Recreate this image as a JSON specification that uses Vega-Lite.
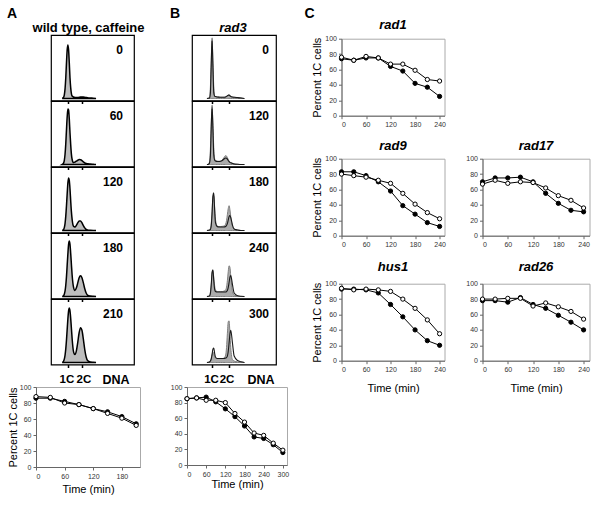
{
"$schema": "https://vega.github.io/schema/vega-lite/v6.json",
"background": "white",
"padding": {"left": 6, "top": 7, "right": 5, "bottom": 5},
"config": {
 "view": {"stroke": null},
 "font": "Liberation Sans",
 "axis": {"labelFont": "Liberation Sans", "titleFont": "Liberation Sans", "labelFontSize": 7, "labelColor": "#333333", "tickSize": 3, "tickColor": "#666666", "domainColor": "#666666", "grid": false, "titleFontWeight": "normal", "titleColor": "black", "titleFontSize": 11, "labelPadding": 2},
 "title": {"font": "Liberation Sans", "color": "black"}
},
"datasets": {
 "A0": [{"x":0.6,"y":0},{"x":0.7,"y":1.3},{"x":0.75,"y":4},{"x":0.8,"y":10},{"x":0.85,"y":21},{"x":0.9,"y":36},{"x":0.95,"y":49},{"x":1,"y":54},{"x":1.05,"y":49},{"x":1.1,"y":36},{"x":1.15,"y":21},{"x":1.2,"y":11},{"x":1.25,"y":5},{"x":1.3,"y":2.5},{"x":1.4,"y":1.5},{"x":1.5,"y":1},{"x":1.6,"y":1},{"x":1.7,"y":1},{"x":1.8,"y":1.3},{"x":1.9,"y":1.5},{"x":2,"y":1.5},{"x":2.1,"y":1.5},{"x":2.2,"y":1.2},{"x":2.3,"y":1},{"x":2.4,"y":0.8},{"x":2.6,"y":0.5},{"x":2.8,"y":0.3},{"x":3,"y":0}],
 "A60": [{"x":0.6,"y":0},{"x":0.7,"y":1.6},{"x":0.75,"y":4.5},{"x":0.8,"y":10.6},{"x":0.85,"y":21},{"x":0.9,"y":35},{"x":0.95,"y":48},{"x":1,"y":56},{"x":1.05,"y":55},{"x":1.1,"y":46},{"x":1.15,"y":32},{"x":1.2,"y":20},{"x":1.25,"y":10.5},{"x":1.3,"y":5.3},{"x":1.4,"y":2},{"x":1.5,"y":2.4},{"x":1.6,"y":3.3},{"x":1.7,"y":4.3},{"x":1.8,"y":5},{"x":1.9,"y":4.8},{"x":2,"y":4},{"x":2.1,"y":2.6},{"x":2.2,"y":1.6},{"x":2.3,"y":1},{"x":2.4,"y":0.7},{"x":2.6,"y":0.4},{"x":2.8,"y":0.2},{"x":3,"y":0}],
 "A120": [{"x":0.6,"y":0},{"x":0.7,"y":1.2},{"x":0.75,"y":3.1},{"x":0.8,"y":7.2},{"x":0.85,"y":14.5},{"x":0.9,"y":25},{"x":0.95,"y":37},{"x":1,"y":48},{"x":1.05,"y":53},{"x":1.1,"y":50.5},{"x":1.15,"y":42},{"x":1.2,"y":30},{"x":1.25,"y":19},{"x":1.3,"y":11.5},{"x":1.4,"y":4.3},{"x":1.5,"y":3.6},{"x":1.6,"y":5.2},{"x":1.7,"y":7.7},{"x":1.8,"y":9.5},{"x":1.9,"y":9.5},{"x":2,"y":7.8},{"x":2.1,"y":5},{"x":2.2,"y":2.7},{"x":2.3,"y":1.2},{"x":2.4,"y":0.6},{"x":2.6,"y":0.3},{"x":2.8,"y":0.1},{"x":3,"y":0}],
 "A180": [{"x":0.6,"y":0},{"x":0.7,"y":0.9},{"x":0.75,"y":2.5},{"x":0.8,"y":5.6},{"x":0.85,"y":11.3},{"x":0.9,"y":20},{"x":0.95,"y":31.6},{"x":1,"y":43},{"x":1.05,"y":52.5},{"x":1.1,"y":56},{"x":1.15,"y":52.5},{"x":1.2,"y":43.5},{"x":1.25,"y":32.5},{"x":1.3,"y":22},{"x":1.4,"y":9.5},{"x":1.5,"y":6},{"x":1.6,"y":8.5},{"x":1.7,"y":13.5},{"x":1.8,"y":19},{"x":1.9,"y":21},{"x":2,"y":19},{"x":2.1,"y":13.8},{"x":2.2,"y":7.8},{"x":2.3,"y":3.5},{"x":2.4,"y":1.4},{"x":2.6,"y":0.5},{"x":2.8,"y":0.2},{"x":3,"y":0}],
 "A210": [{"x":0.6,"y":0},{"x":0.7,"y":1.5},{"x":0.75,"y":3.6},{"x":0.8,"y":7.4},{"x":0.85,"y":13.7},{"x":0.9,"y":22.6},{"x":0.95,"y":33.4},{"x":1,"y":44},{"x":1.05,"y":52},{"x":1.1,"y":55},{"x":1.15,"y":52},{"x":1.2,"y":44.5},{"x":1.25,"y":34.5},{"x":1.3,"y":24.5},{"x":1.4,"y":11},{"x":1.5,"y":8},{"x":1.6,"y":11.5},{"x":1.7,"y":20},{"x":1.8,"y":30},{"x":1.9,"y":35},{"x":2,"y":32.5},{"x":2.1,"y":23.5},{"x":2.2,"y":13},{"x":2.3,"y":5.5},{"x":2.4,"y":2},{"x":2.6,"y":0.5},{"x":2.8,"y":0.2},{"x":3,"y":0}],
 "B0g": [{"x":0.7,"y":0},{"x":0.8,"y":0.3},{"x":0.85,"y":1.5},{"x":0.9,"y":11},{"x":0.95,"y":38},{"x":1,"y":58},{"x":1.05,"y":38},{"x":1.1,"y":12},{"x":1.15,"y":3},{"x":1.2,"y":2},{"x":1.3,"y":1.6},{"x":1.4,"y":1.5},{"x":1.5,"y":1.3},{"x":1.6,"y":1.3},{"x":1.7,"y":1.3},{"x":1.8,"y":1.5},{"x":1.85,"y":2},{"x":1.9,"y":2.7},{"x":1.95,"y":3.5},{"x":2,"y":3.7},{"x":2.05,"y":3.2},{"x":2.1,"y":2.3},{"x":2.2,"y":1.6},{"x":2.3,"y":1.3},{"x":2.5,"y":1},{"x":2.7,"y":0.6},{"x":2.9,"y":0}],
 "B0k": [{"x":0.7,"y":0},{"x":0.8,"y":0.2},{"x":0.85,"y":0.5},{"x":0.9,"y":5},{"x":0.95,"y":33},{"x":1,"y":61},{"x":1.05,"y":33},{"x":1.1,"y":6},{"x":1.15,"y":2.5},{"x":1.2,"y":2},{"x":1.3,"y":1.5},{"x":1.4,"y":1.4},{"x":1.5,"y":1.2},{"x":1.6,"y":1.3},{"x":1.7,"y":1.2},{"x":1.8,"y":1.6},{"x":1.85,"y":2.2},{"x":1.9,"y":2.8},{"x":1.95,"y":3.2},{"x":2,"y":3.4},{"x":2.05,"y":2.8},{"x":2.1,"y":2},{"x":2.2,"y":1.5},{"x":2.3,"y":1.2},{"x":2.5,"y":0.9},{"x":2.7,"y":0.5},{"x":2.9,"y":0}],
 "B120g": [{"x":0.7,"y":0},{"x":0.8,"y":0.5},{"x":0.85,"y":3},{"x":0.9,"y":15},{"x":0.95,"y":41},{"x":1,"y":56},{"x":1.05,"y":42},{"x":1.1,"y":17},{"x":1.15,"y":6},{"x":1.2,"y":4},{"x":1.3,"y":3.5},{"x":1.4,"y":3.3},{"x":1.5,"y":3.5},{"x":1.6,"y":4.5},{"x":1.7,"y":7},{"x":1.8,"y":9},{"x":1.85,"y":8.5},{"x":1.9,"y":7},{"x":1.95,"y":5},{"x":2,"y":3.5},{"x":2.05,"y":2.5},{"x":2.1,"y":2},{"x":2.2,"y":1.3},{"x":2.3,"y":0.8},{"x":2.5,"y":0.3},{"x":2.7,"y":0},{"x":2.9,"y":0}],
 "B120k": [{"x":0.7,"y":0},{"x":0.8,"y":0.3},{"x":0.85,"y":1.5},{"x":0.9,"y":8},{"x":0.95,"y":36},{"x":1,"y":60},{"x":1.05,"y":36},{"x":1.1,"y":10},{"x":1.15,"y":4.5},{"x":1.2,"y":3.5},{"x":1.3,"y":3},{"x":1.4,"y":3},{"x":1.5,"y":3.2},{"x":1.6,"y":4},{"x":1.7,"y":5.5},{"x":1.8,"y":6.5},{"x":1.85,"y":6.3},{"x":1.9,"y":5.5},{"x":1.95,"y":4},{"x":2,"y":3},{"x":2.05,"y":2.2},{"x":2.1,"y":1.7},{"x":2.2,"y":1.1},{"x":2.3,"y":0.6},{"x":2.5,"y":0.2},{"x":2.7,"y":0},{"x":2.9,"y":0}],
 "B180g": [{"x":0.7,"y":0},{"x":0.8,"y":0.3},{"x":0.85,"y":0.8},{"x":0.9,"y":2},{"x":0.95,"y":7},{"x":1,"y":19},{"x":1.05,"y":33},{"x":1.1,"y":35},{"x":1.15,"y":24},{"x":1.2,"y":11.5},{"x":1.3,"y":4.5},{"x":1.4,"y":4},{"x":1.5,"y":4},{"x":1.6,"y":4.2},{"x":1.7,"y":4.5},{"x":1.8,"y":6.5},{"x":1.85,"y":10},{"x":1.9,"y":16},{"x":1.95,"y":22},{"x":2,"y":25},{"x":2.05,"y":21},{"x":2.1,"y":14},{"x":2.2,"y":4},{"x":2.3,"y":1.5},{"x":2.5,"y":0.5},{"x":2.7,"y":0},{"x":2.9,"y":0}],
 "B180k": [{"x":0.7,"y":0},{"x":0.8,"y":0.2},{"x":0.85,"y":0.5},{"x":0.9,"y":1},{"x":0.95,"y":4.5},{"x":1,"y":17},{"x":1.05,"y":35},{"x":1.1,"y":38},{"x":1.15,"y":21},{"x":1.2,"y":8},{"x":1.3,"y":4},{"x":1.4,"y":3.5},{"x":1.5,"y":3.5},{"x":1.6,"y":3.5},{"x":1.7,"y":3.5},{"x":1.8,"y":4},{"x":1.85,"y":5},{"x":1.9,"y":7},{"x":1.95,"y":10.5},{"x":2,"y":14},{"x":2.05,"y":15},{"x":2.1,"y":13},{"x":2.2,"y":5.5},{"x":2.3,"y":1.5},{"x":2.5,"y":0.5},{"x":2.7,"y":0},{"x":2.9,"y":0}],
 "B240g": [{"x":0.7,"y":0},{"x":0.8,"y":0.3},{"x":0.85,"y":0.8},{"x":0.9,"y":4},{"x":0.95,"y":11.5},{"x":1,"y":22},{"x":1.05,"y":26},{"x":1.1,"y":19},{"x":1.15,"y":11},{"x":1.2,"y":6.5},{"x":1.3,"y":5},{"x":1.4,"y":5},{"x":1.5,"y":5},{"x":1.6,"y":5},{"x":1.7,"y":5.5},{"x":1.8,"y":6.5},{"x":1.85,"y":9.5},{"x":1.9,"y":16},{"x":1.95,"y":25},{"x":2,"y":31},{"x":2.05,"y":29.5},{"x":2.1,"y":20.5},{"x":2.2,"y":5},{"x":2.3,"y":1.5},{"x":2.5,"y":0.5},{"x":2.7,"y":0},{"x":2.9,"y":0}],
 "B240k": [{"x":0.7,"y":0},{"x":0.8,"y":0.2},{"x":0.85,"y":0.6},{"x":0.9,"y":3},{"x":0.95,"y":11.5},{"x":1,"y":24.5},{"x":1.05,"y":27},{"x":1.1,"y":16},{"x":1.15,"y":7.5},{"x":1.2,"y":5},{"x":1.3,"y":4.5},{"x":1.4,"y":4.5},{"x":1.5,"y":4.5},{"x":1.6,"y":4.5},{"x":1.7,"y":4.5},{"x":1.8,"y":4.5},{"x":1.85,"y":5},{"x":1.9,"y":6},{"x":1.95,"y":9},{"x":2,"y":14},{"x":2.05,"y":19.5},{"x":2.1,"y":21},{"x":2.2,"y":12},{"x":2.3,"y":3.5},{"x":2.5,"y":0.8},{"x":2.7,"y":0.2},{"x":2.9,"y":0}],
 "B300g": [{"x":0.7,"y":0},{"x":0.8,"y":0.3},{"x":0.85,"y":0.6},{"x":0.9,"y":1.5},{"x":0.95,"y":4},{"x":1,"y":8},{"x":1.05,"y":10.5},{"x":1.1,"y":9},{"x":1.15,"y":6},{"x":1.2,"y":4.5},{"x":1.3,"y":4},{"x":1.4,"y":4},{"x":1.5,"y":4},{"x":1.6,"y":4},{"x":1.7,"y":4.5},{"x":1.8,"y":7.5},{"x":1.85,"y":15},{"x":1.9,"y":29},{"x":1.95,"y":41},{"x":2,"y":42},{"x":2.05,"y":30},{"x":2.1,"y":15},{"x":2.2,"y":3},{"x":2.3,"y":1.5},{"x":2.5,"y":0.6},{"x":2.7,"y":0.2},{"x":2.9,"y":0}],
 "B300k": [{"x":0.7,"y":0},{"x":0.8,"y":0.2},{"x":0.85,"y":0.5},{"x":0.9,"y":1.5},{"x":0.95,"y":3.5},{"x":1,"y":8},{"x":1.05,"y":13.5},{"x":1.1,"y":14.5},{"x":1.15,"y":9.5},{"x":1.2,"y":5.5},{"x":1.3,"y":4},{"x":1.4,"y":4},{"x":1.5,"y":4},{"x":1.6,"y":4},{"x":1.7,"y":4},{"x":1.8,"y":4.5},{"x":1.85,"y":5},{"x":1.9,"y":6.5},{"x":1.95,"y":11},{"x":2,"y":19.5},{"x":2.05,"y":28.5},{"x":2.1,"y":32.5},{"x":2.2,"y":19.5},{"x":2.3,"y":6.5},{"x":2.5,"y":2},{"x":2.7,"y":0.8},{"x":2.9,"y":0}],
 "wt": [{"s":"f","t":0,"v":86},{"s":"f","t":30,"v":86},{"s":"f","t":60,"v":82},{"s":"f","t":90,"v":78},{"s":"f","t":120,"v":73},{"s":"f","t":150,"v":69},{"s":"f","t":180,"v":63},{"s":"f","t":210,"v":54},{"s":"o","t":0,"v":88},{"s":"o","t":30,"v":87},{"s":"o","t":60,"v":80},{"s":"o","t":90,"v":78},{"s":"o","t":120,"v":73},{"s":"o","t":150,"v":67},{"s":"o","t":180,"v":61},{"s":"o","t":210,"v":52}],
 "rad3": [{"s":"f","t":0,"v":85},{"s":"f","t":30,"v":86},{"s":"f","t":60,"v":87},{"s":"f","t":90,"v":81},{"s":"f","t":120,"v":72},{"s":"f","t":150,"v":62},{"s":"f","t":180,"v":50},{"s":"f","t":210,"v":36},{"s":"f","t":240,"v":34},{"s":"f","t":270,"v":26},{"s":"f","t":300,"v":16},{"s":"o","t":0,"v":85},{"s":"o","t":30,"v":86},{"s":"o","t":60,"v":83},{"s":"o","t":90,"v":83},{"s":"o","t":120,"v":80},{"s":"o","t":150,"v":66},{"s":"o","t":180,"v":55},{"s":"o","t":210,"v":41},{"s":"o","t":240,"v":38},{"s":"o","t":270,"v":28},{"s":"o","t":300,"v":19}],
 "rad1": [{"s":"f","t":0,"v":74},{"s":"f","t":30,"v":72},{"s":"f","t":60,"v":75},{"s":"f","t":90,"v":75},{"s":"f","t":120,"v":64},{"s":"f","t":150,"v":58},{"s":"f","t":180,"v":42},{"s":"f","t":210,"v":37},{"s":"f","t":240,"v":25},{"s":"o","t":0,"v":76},{"s":"o","t":30,"v":72},{"s":"o","t":60,"v":77},{"s":"o","t":90,"v":75},{"s":"o","t":120,"v":67},{"s":"o","t":150,"v":67},{"s":"o","t":180,"v":59},{"s":"o","t":210,"v":47},{"s":"o","t":240,"v":45}],
 "rad9": [{"s":"f","t":0,"v":83},{"s":"f","t":30,"v":83},{"s":"f","t":60,"v":78},{"s":"f","t":90,"v":70},{"s":"f","t":120,"v":58},{"s":"f","t":150,"v":39},{"s":"f","t":180,"v":28},{"s":"f","t":210,"v":17},{"s":"f","t":240,"v":12},{"s":"o","t":0,"v":80},{"s":"o","t":30,"v":78},{"s":"o","t":60,"v":76},{"s":"o","t":90,"v":72},{"s":"o","t":120,"v":68},{"s":"o","t":150,"v":55},{"s":"o","t":180,"v":41},{"s":"o","t":210,"v":30},{"s":"o","t":240,"v":22}],
 "rad17": [{"s":"f","t":0,"v":70},{"s":"f","t":30,"v":75},{"s":"f","t":60,"v":75},{"s":"f","t":90,"v":76},{"s":"f","t":120,"v":70},{"s":"f","t":150,"v":55},{"s":"f","t":180,"v":42},{"s":"f","t":210,"v":33},{"s":"f","t":240,"v":31},{"s":"o","t":0,"v":67},{"s":"o","t":30,"v":72},{"s":"o","t":60,"v":68},{"s":"o","t":90,"v":70},{"s":"o","t":120,"v":69},{"s":"o","t":150,"v":62},{"s":"o","t":180,"v":52},{"s":"o","t":210,"v":46},{"s":"o","t":240,"v":36}],
 "hus1": [{"s":"f","t":0,"v":93},{"s":"f","t":30,"v":93},{"s":"f","t":60,"v":92},{"s":"f","t":90,"v":88},{"s":"f","t":120,"v":73},{"s":"f","t":150,"v":57},{"s":"f","t":180,"v":40},{"s":"f","t":210,"v":26},{"s":"f","t":240,"v":20},{"s":"o","t":0,"v":94},{"s":"o","t":30,"v":92},{"s":"o","t":60,"v":93},{"s":"o","t":90,"v":92},{"s":"o","t":120,"v":90},{"s":"o","t":150,"v":80},{"s":"o","t":180,"v":68},{"s":"o","t":210,"v":53},{"s":"o","t":240,"v":35}],
 "rad26": [{"s":"f","t":0,"v":78},{"s":"f","t":30,"v":78},{"s":"f","t":60,"v":76},{"s":"f","t":90,"v":82},{"s":"f","t":120,"v":73},{"s":"f","t":150,"v":68},{"s":"f","t":180,"v":59},{"s":"f","t":210,"v":50},{"s":"f","t":240,"v":40},{"s":"o","t":0,"v":80},{"s":"o","t":30,"v":80},{"s":"o","t":60,"v":81},{"s":"o","t":90,"v":81},{"s":"o","t":120,"v":71},{"s":"o","t":150,"v":75},{"s":"o","t":180,"v":70},{"s":"o","t":210,"v":64},{"s":"o","t":240,"v":54}]
},
"spacing": 14.5,
"hconcat": [
 {"spacing": 24, "hconcat": [
  {"spacing": -12.3, "vconcat": [
   {"width": 1, "height": 1, "data": {"values": []}, "mark": "point", "title": {"text": "A", "anchor": "start", "frame": "group", "offset": 0, "dy": 4, "dx": -29, "baseline": "alphabetic", "fontSize": 14, "fontWeight": "bold"}},
   {"spacing": -2.3, "vconcat": [
    {"width": 105, "height": 1, "data": {"values": []}, "mark": "point", "title": {"text": "wild type, caffeine", "anchor": "middle", "frame": "group", "offset": 0, "dy": 16, "baseline": "alphabetic", "fontSize": 13, "fontWeight": "bold"}},
    {"spacing": -9.8, "vconcat": [
     {"spacing": 0, "hconcat": [
      {"width": 14, "height": 1, "data": {"values": []}, "mark": "point"},
      {"spacing": 0, "bounds": "flush", "vconcat": [
       {"width": 83, "height": 65.5, "data": {"name": "A0"}, "view": {"stroke": "black", "strokeWidth": 1.2},
        "title": {"text": "0", "anchor": "end", "frame": "group", "offset": 0, "dy": 30.6, "dx": -11, "baseline": "alphabetic", "fontSize": 12, "fontWeight": "bold"},
        "mark": {"type": "area", "interpolate": "monotone", "fill": "#bdbdbd", "stroke": "black", "strokeWidth": 1.5},
        "encoding": {"x": {"field": "x", "type": "quantitative", "scale": {"domain": [-0.2, 5.7], "nice": false, "zero": false}, "axis": {"values": [1, 2], "labels": false, "domain": false, "title": null, "tickSize": 3, "tickColor": "black", "tickWidth": 1.5}},
                     "y": {"field": "y", "type": "quantitative", "scale": {"domain": [-2, 64], "nice": false, "zero": false}, "axis": null}}},
       {"width": 83, "height": 65.5, "data": {"name": "A60"}, "view": {"stroke": "black", "strokeWidth": 1.2},
        "title": {"text": "60", "anchor": "end", "frame": "group", "offset": 0, "dy": 30.6, "dx": -11, "baseline": "alphabetic", "fontSize": 12, "fontWeight": "bold"},
        "mark": {"type": "area", "interpolate": "monotone", "fill": "#bdbdbd", "stroke": "black", "strokeWidth": 1.5},
        "encoding": {"x": {"field": "x", "type": "quantitative", "scale": {"domain": [-0.2, 5.7], "nice": false, "zero": false}, "axis": {"values": [1, 2], "labels": false, "domain": false, "title": null, "tickSize": 3, "tickColor": "black", "tickWidth": 1.5}},
                     "y": {"field": "y", "type": "quantitative", "scale": {"domain": [-2, 64], "nice": false, "zero": false}, "axis": null}}},
       {"width": 83, "height": 65.5, "data": {"name": "A120"}, "view": {"stroke": "black", "strokeWidth": 1.2},
        "title": {"text": "120", "anchor": "end", "frame": "group", "offset": 0, "dy": 30.6, "dx": -11, "baseline": "alphabetic", "fontSize": 12, "fontWeight": "bold"},
        "mark": {"type": "area", "interpolate": "monotone", "fill": "#bdbdbd", "stroke": "black", "strokeWidth": 1.5},
        "encoding": {"x": {"field": "x", "type": "quantitative", "scale": {"domain": [-0.2, 5.7], "nice": false, "zero": false}, "axis": {"values": [1, 2], "labels": false, "domain": false, "title": null, "tickSize": 3, "tickColor": "black", "tickWidth": 1.5}},
                     "y": {"field": "y", "type": "quantitative", "scale": {"domain": [-2, 64], "nice": false, "zero": false}, "axis": null}}},
       {"width": 83, "height": 65.5, "data": {"name": "A180"}, "view": {"stroke": "black", "strokeWidth": 1.2},
        "title": {"text": "180", "anchor": "end", "frame": "group", "offset": 0, "dy": 30.6, "dx": -11, "baseline": "alphabetic", "fontSize": 12, "fontWeight": "bold"},
        "mark": {"type": "area", "interpolate": "monotone", "fill": "#bdbdbd", "stroke": "black", "strokeWidth": 1.5},
        "encoding": {"x": {"field": "x", "type": "quantitative", "scale": {"domain": [-0.2, 5.7], "nice": false, "zero": false}, "axis": {"values": [1, 2], "labels": false, "domain": false, "title": null, "tickSize": 3, "tickColor": "black", "tickWidth": 1.5}},
                     "y": {"field": "y", "type": "quantitative", "scale": {"domain": [-2, 64], "nice": false, "zero": false}, "axis": null}}},
       {"width": 83, "height": 65.5, "data": {"name": "A210"}, "view": {"stroke": "black", "strokeWidth": 1.2},
        "title": {"text": "210", "anchor": "end", "frame": "group", "offset": 0, "dy": 30.6, "dx": -11, "baseline": "alphabetic", "fontSize": 12, "fontWeight": "bold"},
        "mark": {"type": "area", "interpolate": "monotone", "fill": "#bdbdbd", "stroke": "black", "strokeWidth": 1.5},
        "encoding": {"x": {"field": "x", "type": "quantitative", "scale": {"domain": [-0.2, 5.7], "nice": false, "zero": false}, "axis": {"values": [1, 2], "labelExpr": "datum.value == 1 ? '1C' : '2C'", "labelFontSize": 11.5, "labelFontWeight": "bold", "labelColor": "black", "labelPadding": 5.5, "labelOffset": {"condition": {"test": "datum.value == 1", "value": -1.5}, "value": 1.5}, "labelOverlap": false, "labelFlush": false, "labelBaseline": "top", "domain": false, "tickSize": 3, "tickColor": "black", "tickWidth": 1.5, "title": "DNA", "titleFontSize": 12.5, "titleFontWeight": "bold", "titleX": 51, "titleY": 8.5, "titleAlign": "left", "titleBaseline": "top"}},
                     "y": {"field": "y", "type": "quantitative", "scale": {"domain": [-2, 64], "nice": false, "zero": false}, "axis": null}}}
      ]}
     ]},
     {"width": 104, "height": 80, "data": {"name": "wt"}, "view": {"stroke": "#aaaaaa"},
      "encoding": {"x": {"field": "t", "type": "quantitative", "scale": {"domain": [0, 218], "nice": false}, "axis": {"values": [0, 60, 120, 180], "title": "Time (min)", "titlePadding": 4}},
                   "y": {"field": "v", "type": "quantitative", "scale": {"domain": [0, 100], "nice": false}, "axis": {"values": [0, 20, 40, 60, 80, 100], "title": "Percent 1C cells", "titlePadding": 1}}},
      "layer": [
       {"mark": {"type": "line", "color": "black", "strokeWidth": 1}, "encoding": {"detail": {"field": "s"}}},
       {"mark": {"type": "point", "filled": true, "size": 18, "stroke": "black", "strokeWidth": 1, "opacity": 1}, "encoding": {"fill": {"field": "s", "type": "nominal", "scale": {"domain": ["f", "o"], "range": ["black", "white"]}, "legend": null}}}
      ]}
    ]}
   ]}
  ]},
  {"spacing": -12.3, "vconcat": [
   {"width": 1, "height": 1, "data": {"values": []}, "mark": "point", "title": {"text": "B", "anchor": "start", "frame": "group", "offset": 0, "dy": 4, "dx": -17, "baseline": "alphabetic", "fontSize": 14, "fontWeight": "bold"}},
   {"spacing": -2.3, "vconcat": [
    {"width": 92, "height": 1, "data": {"values": []}, "mark": "point", "title": {"text": "rad3", "anchor": "middle", "frame": "group", "offset": 0, "dy": 16, "baseline": "alphabetic", "fontSize": 13, "fontWeight": "bold", "fontStyle": "italic"}},
    {"spacing": -9.8, "vconcat": [
     {"spacing": 0, "hconcat": [
      {"width": 4, "height": 1, "data": {"values": []}, "mark": "point"},
      {"spacing": 0, "bounds": "flush", "vconcat": [
       {"width": 84, "height": 65.5, "view": {"stroke": "black", "strokeWidth": 1.2},
        "title": {"text": "0", "anchor": "end", "frame": "group", "offset": 0, "dy": 30.6, "dx": -7, "baseline": "alphabetic", "fontSize": 12, "fontWeight": "bold"},
        "encoding": {"x": {"field": "x", "type": "quantitative", "scale": {"domain": [-0.18, 4.76], "nice": false, "zero": false}, "axis": {"values": [1, 2], "labels": false, "domain": false, "title": null, "tickSize": 3, "tickColor": "black", "tickWidth": 1.5}},
                     "y": {"field": "y", "type": "quantitative", "scale": {"domain": [-2, 64], "nice": false, "zero": false}, "axis": null}},
        "layer": [
         {"data": {"name": "B0g"}, "mark": {"type": "area", "interpolate": "monotone", "fill": "#ababab", "stroke": "#808080", "strokeWidth": 1}},
         {"data": {"name": "B0k"}, "mark": {"type": "line", "interpolate": "monotone", "color": "#1a1a1a", "strokeWidth": 1.1}}
        ]},
       {"width": 84, "height": 65.5, "view": {"stroke": "black", "strokeWidth": 1.2},
        "title": {"text": "120", "anchor": "end", "frame": "group", "offset": 0, "dy": 30.6, "dx": -7, "baseline": "alphabetic", "fontSize": 12, "fontWeight": "bold"},
        "encoding": {"x": {"field": "x", "type": "quantitative", "scale": {"domain": [-0.18, 4.76], "nice": false, "zero": false}, "axis": {"values": [1, 2], "labels": false, "domain": false, "title": null, "tickSize": 3, "tickColor": "black", "tickWidth": 1.5}},
                     "y": {"field": "y", "type": "quantitative", "scale": {"domain": [-2, 64], "nice": false, "zero": false}, "axis": null}},
        "layer": [
         {"data": {"name": "B120g"}, "mark": {"type": "area", "interpolate": "monotone", "fill": "#ababab", "stroke": "#808080", "strokeWidth": 1}},
         {"data": {"name": "B120k"}, "mark": {"type": "line", "interpolate": "monotone", "color": "#1a1a1a", "strokeWidth": 1.1}}
        ]},
       {"width": 84, "height": 65.5, "view": {"stroke": "black", "strokeWidth": 1.2},
        "title": {"text": "180", "anchor": "end", "frame": "group", "offset": 0, "dy": 30.6, "dx": -7, "baseline": "alphabetic", "fontSize": 12, "fontWeight": "bold"},
        "encoding": {"x": {"field": "x", "type": "quantitative", "scale": {"domain": [-0.18, 4.76], "nice": false, "zero": false}, "axis": {"values": [1, 2], "labels": false, "domain": false, "title": null, "tickSize": 3, "tickColor": "black", "tickWidth": 1.5}},
                     "y": {"field": "y", "type": "quantitative", "scale": {"domain": [-2, 64], "nice": false, "zero": false}, "axis": null}},
        "layer": [
         {"data": {"name": "B180g"}, "mark": {"type": "area", "interpolate": "monotone", "fill": "#ababab", "stroke": "#808080", "strokeWidth": 1}},
         {"data": {"name": "B180k"}, "mark": {"type": "line", "interpolate": "monotone", "color": "#1a1a1a", "strokeWidth": 1.1}}
        ]},
       {"width": 84, "height": 65.5, "view": {"stroke": "black", "strokeWidth": 1.2},
        "title": {"text": "240", "anchor": "end", "frame": "group", "offset": 0, "dy": 30.6, "dx": -7, "baseline": "alphabetic", "fontSize": 12, "fontWeight": "bold"},
        "encoding": {"x": {"field": "x", "type": "quantitative", "scale": {"domain": [-0.18, 4.76], "nice": false, "zero": false}, "axis": {"values": [1, 2], "labels": false, "domain": false, "title": null, "tickSize": 3, "tickColor": "black", "tickWidth": 1.5}},
                     "y": {"field": "y", "type": "quantitative", "scale": {"domain": [-2, 64], "nice": false, "zero": false}, "axis": null}},
        "layer": [
         {"data": {"name": "B240g"}, "mark": {"type": "area", "interpolate": "monotone", "fill": "#ababab", "stroke": "#808080", "strokeWidth": 1}},
         {"data": {"name": "B240k"}, "mark": {"type": "line", "interpolate": "monotone", "color": "#1a1a1a", "strokeWidth": 1.1}}
        ]},
       {"width": 84, "height": 65.5, "view": {"stroke": "black", "strokeWidth": 1.2},
        "title": {"text": "300", "anchor": "end", "frame": "group", "offset": 0, "dy": 30.6, "dx": -7, "baseline": "alphabetic", "fontSize": 12, "fontWeight": "bold"},
        "encoding": {"x": {"field": "x", "type": "quantitative", "scale": {"domain": [-0.18, 4.76], "nice": false, "zero": false}, "axis": {"values": [1, 2], "labelExpr": "datum.value == 1 ? '1C' : '2C'", "labelFontSize": 11.5, "labelFontWeight": "bold", "labelColor": "black", "labelPadding": 5.5, "labelOffset": {"condition": {"test": "datum.value == 1", "value": -1}, "value": -2.5}, "labelOverlap": false, "labelFlush": false, "labelBaseline": "top", "domain": false, "tickSize": 3, "tickColor": "black", "tickWidth": 1.5, "title": "DNA", "titleFontSize": 12.5, "titleFontWeight": "bold", "titleX": 55, "titleY": 8.5, "titleAlign": "left", "titleBaseline": "top"}},
                     "y": {"field": "y", "type": "quantitative", "scale": {"domain": [-2, 64], "nice": false, "zero": false}, "axis": null}},
        "layer": [
         {"data": {"name": "B300g"}, "mark": {"type": "area", "interpolate": "monotone", "fill": "#ababab", "stroke": "#808080", "strokeWidth": 1}},
         {"data": {"name": "B300k"}, "mark": {"type": "line", "interpolate": "monotone", "color": "#1a1a1a", "strokeWidth": 1.1}}
        ]}
      ]}
     ]},
     {"width": 100, "height": 78, "data": {"name": "rad3"}, "view": {"stroke": "#aaaaaa"},
      "encoding": {"x": {"field": "t", "type": "quantitative", "scale": {"domain": [0, 313], "nice": false}, "axis": {"values": [0, 60, 120, 180, 240, 300], "title": "Time (min)", "titlePadding": 1}},
                   "y": {"field": "v", "type": "quantitative", "scale": {"domain": [0, 100], "nice": false}, "axis": {"values": [0, 20, 40, 60, 80, 100], "title": null}}},
      "layer": [
       {"mark": {"type": "line", "color": "black", "strokeWidth": 1}, "encoding": {"detail": {"field": "s"}}},
       {"mark": {"type": "point", "filled": true, "size": 18, "stroke": "black", "strokeWidth": 1, "opacity": 1}, "encoding": {"fill": {"field": "s", "type": "nominal", "scale": {"domain": ["f", "o"], "range": ["black", "white"]}, "legend": null}}}
      ]}
    ]}
   ]}
  ]}
 ]},
 {"spacing": -10.3, "vconcat": [
  {"width": 1, "height": 1, "data": {"values": []}, "mark": "point", "title": {"text": "C", "anchor": "start", "frame": "group", "offset": 0, "dy": 4, "dx": -37, "baseline": "alphabetic", "fontSize": 14, "fontWeight": "bold"}},
  {"columns": 2, "align": "each", "spacing": {"row": 11, "column": 18}, "concat": [
   {"width": 103, "height": 77, "data": {"name": "rad1"}, "view": {"stroke": "#aaaaaa"},
    "title": {"text": "rad1", "fontSize": 13, "fontWeight": "bold", "fontStyle": "italic", "anchor": "middle", "frame": "group", "offset": -7.5, "baseline": "alphabetic"},
    "encoding": {"x": {"field": "t", "type": "quantitative", "scale": {"domain": [0, 252], "nice": false}, "axis": {"values": [0, 60, 120, 180, 240], "title": null}},
                 "y": {"field": "v", "type": "quantitative", "scale": {"domain": [0, 100], "nice": false}, "axis": {"values": [0, 20, 40, 60, 80, 100], "title": "Percent 1C cells", "titlePadding": 2}}},
    "layer": [
     {"mark": {"type": "line", "color": "black", "strokeWidth": 1}, "encoding": {"detail": {"field": "s"}}},
     {"mark": {"type": "point", "filled": true, "size": 18, "stroke": "black", "strokeWidth": 1, "opacity": 1}, "encoding": {"fill": {"field": "s", "type": "nominal", "scale": {"domain": ["f", "o"], "range": ["black", "white"]}, "legend": null}}}
    ]},
   {"width": 10, "height": 10, "data": {"values": []}, "mark": "point"},
   {"width": 103, "height": 77, "data": {"name": "rad9"}, "view": {"stroke": "#aaaaaa"},
    "title": {"text": "rad9", "fontSize": 13, "fontWeight": "bold", "fontStyle": "italic", "anchor": "middle", "frame": "group", "offset": -8.5, "baseline": "alphabetic"},
    "encoding": {"x": {"field": "t", "type": "quantitative", "scale": {"domain": [0, 252], "nice": false}, "axis": {"values": [0, 60, 120, 180, 240], "title": null}},
                 "y": {"field": "v", "type": "quantitative", "scale": {"domain": [0, 100], "nice": false}, "axis": {"values": [0, 20, 40, 60, 80, 100], "title": "Percent 1C cells", "titlePadding": 2}}},
    "layer": [
     {"mark": {"type": "line", "color": "black", "strokeWidth": 1}, "encoding": {"detail": {"field": "s"}}},
     {"mark": {"type": "point", "filled": true, "size": 18, "stroke": "black", "strokeWidth": 1, "opacity": 1}, "encoding": {"fill": {"field": "s", "type": "nominal", "scale": {"domain": ["f", "o"], "range": ["black", "white"]}, "legend": null}}}
    ]},
   {"width": 107, "height": 77, "data": {"name": "rad17"}, "view": {"stroke": "#aaaaaa"},
    "title": {"text": "rad17", "fontSize": 13, "fontWeight": "bold", "fontStyle": "italic", "anchor": "middle", "frame": "group", "offset": -8.5, "baseline": "alphabetic"},
    "encoding": {"x": {"field": "t", "type": "quantitative", "scale": {"domain": [0, 254], "nice": false}, "axis": {"values": [0, 60, 120, 180, 240], "title": null}},
                 "y": {"field": "v", "type": "quantitative", "scale": {"domain": [0, 100], "nice": false}, "axis": {"values": [0, 20, 40, 60, 80, 100], "title": null}}},
    "layer": [
     {"mark": {"type": "line", "color": "black", "strokeWidth": 1}, "encoding": {"detail": {"field": "s"}}},
     {"mark": {"type": "point", "filled": true, "size": 18, "stroke": "black", "strokeWidth": 1, "opacity": 1}, "encoding": {"fill": {"field": "s", "type": "nominal", "scale": {"domain": ["f", "o"], "range": ["black", "white"]}, "legend": null}}}
    ]},
   {"width": 103, "height": 77, "data": {"name": "hus1"}, "view": {"stroke": "#aaaaaa"},
    "title": {"text": "hus1", "fontSize": 13, "fontWeight": "bold", "fontStyle": "italic", "anchor": "middle", "frame": "group", "offset": -4, "baseline": "alphabetic"},
    "encoding": {"x": {"field": "t", "type": "quantitative", "scale": {"domain": [0, 252], "nice": false}, "axis": {"values": [0, 60, 120, 180, 240], "title": "Time (min)", "titlePadding": 10}},
                 "y": {"field": "v", "type": "quantitative", "scale": {"domain": [0, 100], "nice": false}, "axis": {"values": [0, 20, 40, 60, 80, 100], "title": "Percent 1C cells", "titlePadding": 2}}},
    "layer": [
     {"mark": {"type": "line", "color": "black", "strokeWidth": 1}, "encoding": {"detail": {"field": "s"}}},
     {"mark": {"type": "point", "filled": true, "size": 18, "stroke": "black", "strokeWidth": 1, "opacity": 1}, "encoding": {"fill": {"field": "s", "type": "nominal", "scale": {"domain": ["f", "o"], "range": ["black", "white"]}, "legend": null}}}
    ]},
   {"width": 107, "height": 77, "data": {"name": "rad26"}, "view": {"stroke": "#aaaaaa"},
    "title": {"text": "rad26", "fontSize": 13, "fontWeight": "bold", "fontStyle": "italic", "anchor": "middle", "frame": "group", "offset": -4, "baseline": "alphabetic"},
    "encoding": {"x": {"field": "t", "type": "quantitative", "scale": {"domain": [0, 254], "nice": false}, "axis": {"values": [0, 60, 120, 180, 240], "title": "Time (min)", "titlePadding": 10}},
                 "y": {"field": "v", "type": "quantitative", "scale": {"domain": [0, 100], "nice": false}, "axis": {"values": [0, 20, 40, 60, 80, 100], "title": null}}},
    "layer": [
     {"mark": {"type": "line", "color": "black", "strokeWidth": 1}, "encoding": {"detail": {"field": "s"}}},
     {"mark": {"type": "point", "filled": true, "size": 18, "stroke": "black", "strokeWidth": 1, "opacity": 1}, "encoding": {"fill": {"field": "s", "type": "nominal", "scale": {"domain": ["f", "o"], "range": ["black", "white"]}, "legend": null}}}
    ]}
  ]}
 ]}
]
}
